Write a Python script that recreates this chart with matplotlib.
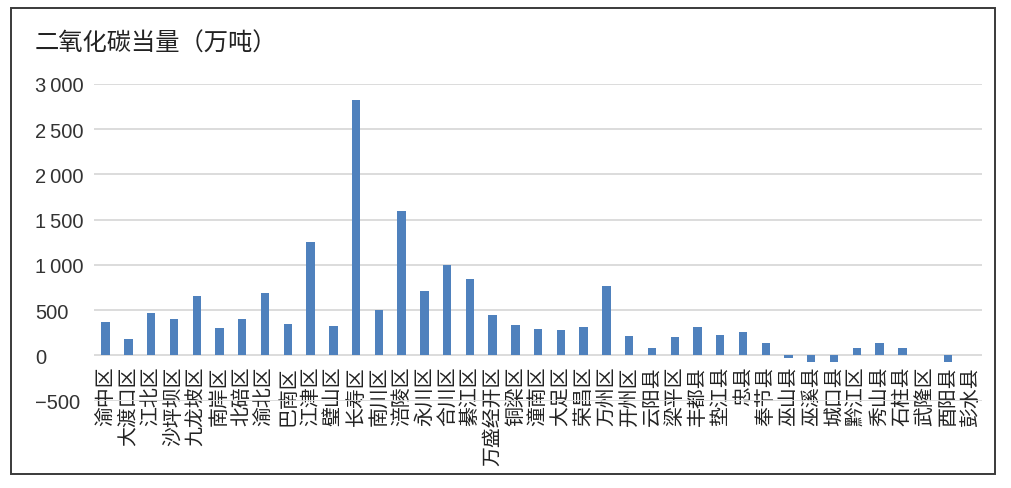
import matplotlib
matplotlib.use("Agg")
import matplotlib.pyplot as plt
from matplotlib.patches import Rectangle

plt.rcParams['font.family'] = ['Noto Sans CJK SC', 'DejaVu Sans']

title = "二氧化碳当量（万吨）"
districts = ["渝中区", "大渡口区", "江北区", "沙坪坝区", "九龙坡区", "南岸区", "北碚区",
             "渝北区", "巴南区", "江津区", "璧山区", "长寿区", "南川区", "涪陵区",
             "永川区", "合川区", "綦江区", "万盛经开区", "铜梁区", "潼南区", "大足区",
             "荣昌区", "万州区", "开州区", "云阳县", "梁平区", "丰都县", "垫江县",
             "忠县", "奉节县", "巫山县", "巫溪县", "城口县", "黔江区", "秀山县",
             "石柱县", "武隆区", "酉阳县", "彭水县"]
co2 = [370, 185, 467, 406, 660, 305, 406, 693, 350, 1248, 328, 2822, 505, 1593,
       706, 1004, 849, 451, 330, 292, 275, 318, 762, 218, 76, 208, 308, 230,
       263, 131, -28, -73, -73, 76, 131, 76, 0, -73, 0]
y_ticks = [-500, 0, 500, 1000, 1500, 2000, 2500, 3000]
y_tick_labels = ["\u2212500", "0", "500", "1\u2009000", "1\u2009500", "2\u2009000",
                 "2\u2009500", "3\u2009000"]

W, H = 1011, 489
fig = plt.figure(figsize=(W / 100, H / 100), dpi=100)
fig.patch.set_facecolor('white')

ax = fig.add_axes([94.3 / W, 1 - 402 / H, (982 - 94.3) / W, (402 - 85) / H])
ax.spines['bottom'].set_position(('data', 0))
for s in ['top', 'right', 'left', 'bottom']:
    ax.spines[s].set_visible(False)

x = list(range(len(districts)))
ax.bar(x, co2, width=0.37, color='#4f81bd', zorder=3)

ax.set_xlim(-0.5, len(districts) - 0.5)
ax.set_ylim(-505, 3000)
ax.set_yticks(y_ticks)
ax.set_yticklabels(y_tick_labels, family=['Liberation Sans', 'DejaVu Sans'],
                   fontsize=14.5, color='#333333', ha='left')
ax.tick_params(axis='y', length=0, pad=42.7)
ax.yaxis.grid(True, color='#d9d9d9', linewidth=1.3, zorder=0)
ax.set_axisbelow(True)

ax.set_xticks(x)
ax.set_xticklabels(districts, rotation=90, fontsize=14.3, color='#222222',
                   family=['Noto Sans CJK SC', 'DejaVu Sans'], va='top', ha='center')
ax.tick_params(axis='x', length=0, pad=7.5)

fig.text(35 / W, 1 - 44 / H, title, fontsize=17.5, color='#222222', va='center',
         ha='left', family=['Noto Sans CJK SC', 'DejaVu Sans'])

fig.patches.append(Rectangle((11 / W, 1 - 475 / H), 984 / W, 466 / H,
                             transform=fig.transFigure, fill=False,
                             edgecolor='#3a3a3a', linewidth=1.4))

fig.savefig("out.png", dpi=100)
